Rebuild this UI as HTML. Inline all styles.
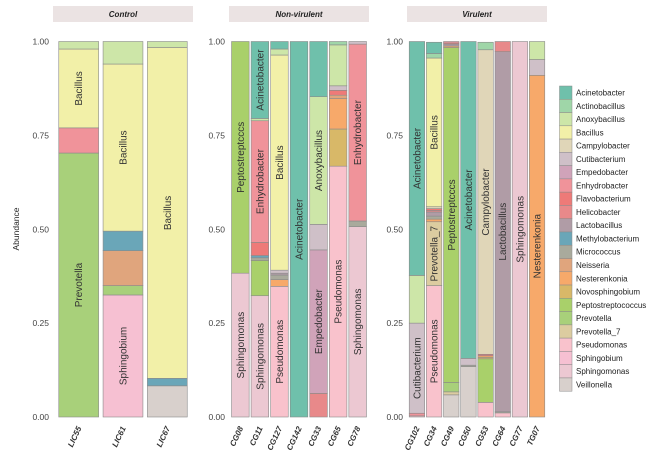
<!DOCTYPE html>
<html><head><meta charset="utf-8"><style>
html,body{margin:0;padding:0;background:#fff;}
svg{display:block;font-family:"Liberation Sans Narrow","Liberation Sans",sans-serif;}
</style></head><body>
<svg id="chart" width="661" height="470" viewBox="0 0 661 470">
<text x="19" y="229" transform="rotate(-90 19 229)" text-anchor="middle" font-size="8.5" fill="#222">Abundance</text>
<g id="panels"></g>
<g id="legend"></g>
</svg>
<script>
const genera = ["Acinetobacter","Actinobacillus","Anoxybacillus","Bacillus","Campylobacter","Cutibacterium","Empedobacter","Enhydrobacter","Flavobacterium","Helicobacter","Lactobacillus","Methylobacterium","Micrococcus","Neisseria","Nesterenkonia","Novosphingobium","Peptostreptococcus","Prevotella","Prevotella_7","Pseudomonas","Sphingobium","Sphingomonas","Veillonella"];
const colors = ["#6fc0ab","#9fd6a8","#cde6a8","#f2f0a8","#e0d6b8","#cfc0c8","#d0a3b9","#f0939a","#ee7a78","#e8898a","#b09ca6","#6aa6b8","#a9aa9c","#e0a57d","#f7a96a","#d8b868","#a9d06a","#a8d07a","#dccca0","#f9c2cc","#f6c0d2","#ecc8d2","#d8d0cc"];
const panelNames = ["Control","Non-virulent","Virulent"];
const controlSamples = ["LIC55","LIC61","LIC67"];
const nonVirulentSamples = ["CG08","CG11","CG127","CG142","CG33","CG65","CG78"];
const virulentSamples = ["CG102","CG34","CG49","CG50","CG53","CG64","CG77","TG07"];
const yTicks = [0,0.25,0.5,0.75,1];
const yTickLabels = ["0.00","0.25","0.50","0.75","1.00"];
// composition: sample -> {genus: fraction}
const composition = {
LIC55:{Anoxybacillus:.02,Bacillus:.21,Enhydrobacter:.067,Prevotella:.703},
LIC61:{Anoxybacillus:.06,Bacillus:.445,Methylobacterium:.052,Neisseria:.093,Prevotella:.025,Sphingobium:.325},
LIC67:{Anoxybacillus:.016,Bacillus:.881,Methylobacterium:.02,Veillonella:.083},
CG08:{Peptostreptococcus:.617,Sphingomonas:.383},
CG11:{Acinetobacter:.205,Methylobacterium:.006,Enhydrobacter:.324,Flavobacterium:.035,Micrococcus:.007,Peptostreptococcus:.094,Anoxybacillus:.006,Sphingomonas:.323},
CG127:{Acinetobacter:.02,Micrococcus:.012,Anoxybacillus:.016,Bacillus:.573,Cutibacterium:.008,Lactobacillus:.005,Nesterenkonia:.018,Pseudomonas:.348},
CG142:{Acinetobacter:1},
CG33:{Acinetobacter:.147,Anoxybacillus:.34,Cutibacterium:.068,Empedobacter:.382,Helicobacter:.063},
CG65:{Actinobacillus:.009,Anoxybacillus:.109,Cutibacterium:.012,Flavobacterium:.013,Neisseria:.009,Nesterenkonia:.081,Novosphingobium:.099,Pseudomonas:.668},
CG78:{Cutibacterium:.007,Enhydrobacter:.471,Micrococcus:.015,Sphingomonas:.507},
CG102:{Acinetobacter:.623,Anoxybacillus:.127,Cutibacterium:.24,Enhydrobacter:.007,Pseudomonas:.003},
CG34:{Acinetobacter:.03,Actinobacillus:.012,Campylobacter:.005,Bacillus:.396,Micrococcus:.008,Flavobacterium:.005,Lactobacillus:.011,Helicobacter:.004,Nesterenkonia:.007,Prevotella_7:.17,Pseudomonas:.35},
CG49:{Lactobacillus:.005,Enhydrobacter:.004,Flavobacterium:.003,Nesterenkonia:.004,Peptostreptococcus:.892,Prevotella:.025,Prevotella_7:.008,Veillonella:.059},
CG50:{Acinetobacter:.844,Cutibacterium:.018,Micrococcus:.004,Veillonella:.134},
CG53:{Actinobacillus:.02,Campylobacter:.811,Flavobacterium:.004,Nesterenkonia:.004,Novosphingobium:.004,Peptostreptococcus:.116,Pseudomonas:.039},
CG64:{Helicobacter:.027,Lactobacillus:.959,Micrococcus:.003,Pseudomonas:.011},
CG77:{Sphingomonas:1},
TG07:{Anoxybacillus:.048,Cutibacterium:.042,Nesterenkonia:.91}
};
const panelSamples = [controlSamples, nonVirulentSamples, virulentSamples];
const panelLeft = [53,229,407], panelW = 140;
const yTop = 41.5, yBot = 417;
const y = v => yBot - (yBot - yTop) * v;
const NS = "http://www.w3.org/2000/svg";
function mk(tag, attrs, parent){const e=document.createElementNS(NS,tag);for(const k in attrs)e.setAttribute(k,attrs[k]);parent.appendChild(e);return e;}
const root = document.getElementById('panels');
panelSamples.forEach((samples, p) => {
  const g = mk('g', {}, root);
  
  
  const L = panelLeft[p];
  const strip = mk('rect', {x:L, y:6, width:panelW, height:16, fill:'#ebe3e3'}, g);
  
  
  const st = mk('text', {x:L+panelW/2, y:17, 'text-anchor':'middle', 'font-size':8, 'font-weight':'bold', 'font-style':'italic', fill:'#222'}, g);
  st.textContent = panelNames[p];
  
  
  yTicks.forEach((t, i) => {
    const tt = mk('text', {x:L-4, y:y(t)+3, 'text-anchor':'end', 'font-size':8.5, fill:'#444'}, g);
    tt.textContent = yTickLabels[i];
    
    
  });
  const n = samples.length;
  const unit = panelW / (n - 1 + 1.16);
  const bw = unit * 0.9;
  samples.forEach((s, i) => {
    const cx = L + unit * (0.58 + i);
    const comp = composition[s];
    let cum = 0;
    for (let gi = genera.length - 1; gi >= 0; gi--) {
      const v = comp[genera[gi]];
      if (!v) continue;
      const r = mk('rect', {x:cx-bw/2, y:y(cum+v), width:bw, height:y(cum)-y(cum+v), fill:colors[gi], stroke:'#8a8a8a', 'stroke-width':0.6}, g);
      
      
      if (v >= 0.15) {
        const my = (y(cum) + y(cum+v)) / 2;
        const lbl = genera[gi] === 'Peptostreptococcus' ? 'Peptostreptcccs' : genera[gi];
        const t = mk('text', {x:cx+3.5, y:my, transform:`rotate(-90 ${cx+3.5} ${my})`, 'text-anchor':'middle', 'font-size':10, fill:'#333', 'font-family':'Liberation Sans, sans-serif'}, g);
        t.textContent = lbl;
        
        
      }
      cum += v;
    }
    const xt = mk('text', {x:cx+3, y:428, transform:`rotate(-65 ${cx+3} 428)`, 'text-anchor':'end', 'font-size':8, 'font-weight':'bold', 'font-style':'italic', fill:'#333'}, g);
    xt.textContent = s;
    
    
  });
});
const lg = document.getElementById('legend');
genera.forEach((name, i) => {
  const yy = 86 + i * 13.27;
  const r = mk('rect', {x:559.5, y:yy, width:12.5, height:13.27, fill:colors[i], stroke:'#8a8a8a', 'stroke-width':0.5}, lg);
  
  
  const t = mk('text', {x:576, y:yy+9.5, 'font-size':8, fill:'#222'}, lg);
  t.textContent = name;
  
  
});
</script>
</body></html>
